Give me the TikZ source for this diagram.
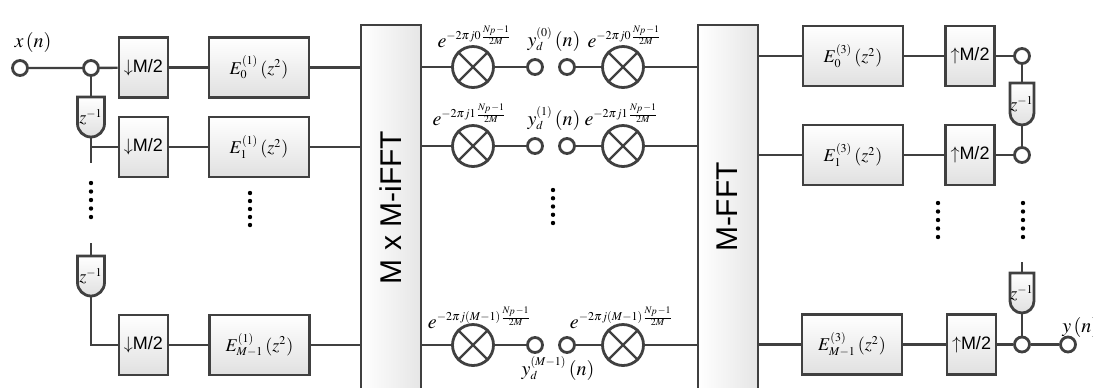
\documentclass[tikz,border=0pt]{standalone}
\usepackage{mathptmx}
\usepackage[no-math]{fontspec}
\setsansfont{Liberation Sans}
\DeclareMathSizes{10}{10}{6}{5}
\DeclareMathSizes{9}{9}{6}{5}
\usetikzlibrary{positioning,calc,backgrounds}
\definecolor{edge}{RGB}{64,64,64}
\tikzset{
    wire/.style={draw=edge, line width=1.2pt},
    blk/.style={draw=edge, line width=1.4pt, top color=white, bottom color=black!12},
    ratebox/.style={blk, inner sep=0pt, minimum width=24.5pt, minimum height=30pt,
        font=\sffamily\fontsize{9}{10}\selectfont},
    filtbox/.style={blk, inner sep=0pt, minimum width=50pt, minimum height=30pt,
        font=\fontsize{9}{10}\selectfont},
    bigbox/.style={draw=edge, line width=1.4pt, left color=white, right color=black!10,
        minimum width=30pt, minimum height=182.5pt},
    biglabel/.style={rotate=90, font=\sffamily\fontsize{15}{17}\selectfont},
    port/.style={circle, draw=edge, line width=1.4pt, fill=white, minimum size=7.5pt, inner sep=0pt},
    mult/.style={circle, draw=edge, line width=1.4pt, fill=white, minimum size=20.5pt, inner sep=0pt},
    dly/.style={inner sep=0pt, outer sep=0pt, minimum width=13.5pt, minimum height=20pt,
        font=\fontsize{9}{10}\selectfont},
    lbl/.style={inner sep=0pt, font=\fontsize{10}{12}\selectfont}
}
% delay outline: flat top, round bottom
\newcommand{\dlyshape}[1]{%
    \path[blk] let \p1=(#1.north west), \p2=(#1.south east), \n1={(\x2-\x1)/2} in
        (\p1) -- (\x1,\y2+\n1) arc[start angle=180, end angle=360, radius=\n1] -- (\x2,\y1) -- cycle;}
\newcommand{\dn}{$\downarrow$M/2}
\newcommand{\up}{$\uparrow$M/2}
\begin{document}
\begin{tikzpicture}[x=0.5pt,y=-0.5pt]
\useasboundingbox (0,0) rectangle (1093,387);

% analysis side
\node[port] (xin) at (20,68) {};
\node[lbl, anchor=base] (xlab) at (33,47) {$x\,(n)$};
\node[port] (b0) at (91,68) {};
\node[ratebox] (dn0) at (143.5,67.5) {\dn};
\node[filtbox] (ea0) at (259,67.5) {$E_0^{(1)}\,(z^2)$};
\node[dly] (da0) at (91,117) {$z^{-1}$};
\node[ratebox] (dn1) at (143.5,147) {\dn};
\node[filtbox] (ea1) at (259,147) {$E_1^{(1)}\,(z^2)$};
\coordinate (sa1) at (91,163);
\coordinate (sa2) at (91,243);
\node[dly] (da2) at (91,276) {$z^{-1}$};
\node[ratebox] (dn2) at (143.5,345) {\dn};
\node[filtbox] (ea2) at (259.5,345) {$E_{M-1}^{(1)}\,(z^2)$};

\node[bigbox] (ifft) at (391,207.5) {};
\node[biglabel] (ifftlab) at (391,207.5) {M x M-iFFT};

% modulators
\foreach \r/\yy in {0/67,1/146,2/345}{
    \node[mult] (ma\r) at (473,\yy) {};
    \node[port] (p\r) at (535,\yy) {};
    \node[port] (q\r) at (567,\yy) {};
    \node[mult] (mb\r) at (623,\yy) {};
}
\foreach \m in {ma0,ma1,ma2,mb0,mb1,mb2}
    \draw[wire] (\m.45) -- (\m.225) (\m.135) -- (\m.-45);

\node[lbl, anchor=base] (ema0) at (475,47) {$e^{-2\pi j0\frac{N_p-1}{2M}}$};
\node[lbl, anchor=base] (emb0) at (625,47) {$e^{-2\pi j0\frac{N_p-1}{2M}}$};
\node[lbl, anchor=base] (ema1) at (470,125) {$e^{-2\pi j1\frac{N_p-1}{2M}}$};
\node[lbl, anchor=base] (emb1) at (622,125) {$e^{-2\pi j1\frac{N_p-1}{2M}}$};
\node[lbl, anchor=base] (ema2) at (480,328) {$e^{-2\pi j(M-1)\frac{N_p-1}{2M}}$};
\node[lbl, anchor=base] (emb2) at (622,328) {$e^{-2\pi j(M-1)\frac{N_p-1}{2M}}$};
\node[lbl, anchor=base] (yd0) at (554,46) {$y_d^{(0)}\,(n)$};
\node[lbl, anchor=base] (yd1) at (554,125) {$y_d^{(1)}\,(n)$};
\node[lbl, anchor=base] (yd2) at (558,375) {$y_d^{(M-1)}\,(n)$};

% synthesis side
\node[bigbox] (fft) at (728,207.5) {};
\node[biglabel] (fftlab) at (727,207) {M-FFT};
\node[filtbox] (eb0) at (853,56) {$E_0^{(3)}\,(z^2)$};
\node[ratebox] (up0) at (970,56) {\up};
\node[port] (o0) at (1022,56) {};
\node[dly, minimum width=12pt, minimum height=21pt] (db0) at (1022,104) {$z^{-1}$};
\node[filtbox] (eb1) at (853,155) {$E_1^{(3)}\,(z^2)$};
\node[ratebox] (up1) at (970,155) {\up};
\node[port] (o1) at (1022,155) {};
\coordinate (sb2) at (1022,262);
\node[dly, minimum width=12pt, minimum height=20pt] (db2) at (1022,293) {$z^{-1}$};
\node[filtbox] (eb2) at (852,344.5) {$E_{M-1}^{(3)}\,(z^2)$};
\node[ratebox] (up2) at (971.5,344.5) {\up};
\node[port] (o2) at (1022,344.5) {};
\node[port] (yout) at (1068,344.5) {};
\node[lbl, anchor=base west] (ylab) at (1062,332) {$y\,(n)$};

\begin{scope}[on background layer]
    \foreach \d in {da0,da2,db0,db2} \dlyshape{\d};
\end{scope}

% wires
\draw[wire] (xin) -- (b0) -- (dn0);
\draw[wire] (dn0) -- (ea0) -- (ea0 -| ifft.west);
\draw[wire] (b0) -- (da0);
\draw[wire] (da0) |- (dn1);
\draw[wire] (da0.south) -- (sa1);
\draw[wire] (dn1) -- (ea1) -- (ea1 -| ifft.west);
\draw[wire] (sa2) -- (da2);
\draw[wire] (da2) |- (dn2);
\draw[wire] (dn2) -- (ea2) -- (ea2 -| ifft.west);
\foreach \r in {0,1,2}{
    \draw[wire] (ifft.east |- ma\r) -- (ma\r) -- (p\r);
    \draw[wire] (q\r) -- (mb\r) -- (mb\r -| fft.west);
}
\draw[wire] (fft.east |- eb0) -- (eb0) -- (up0) -- (o0);
\draw[wire] (o0) -- (db0) -- (o1);
\draw[wire] (fft.east |- eb1) -- (eb1) -- (up1) -- (o1);
\draw[wire] (fft.east |- eb2) -- (eb2) -- (up2) -- (o2) -- (yout);
\draw[wire] (sb2) -- (db2) -- (o2);

% dots
\foreach \yy in {183,191.5,200,208.5,217} \fill (91,\yy) circle[radius=1.1pt];
\foreach \yy in {193,201,209,217,225} \fill (250,\yy) circle[radius=1.1pt];
\foreach \yy in {190,198.25,206.5,214.75,223} \fill (553,\yy) circle[radius=1.1pt];
\foreach \yy in {203,211.5,220,228.5,237} {
    \fill (938,\yy) circle[radius=1.1pt];
    \fill (1023,\yy) circle[radius=1.1pt];
}
\end{tikzpicture}
\end{document}
